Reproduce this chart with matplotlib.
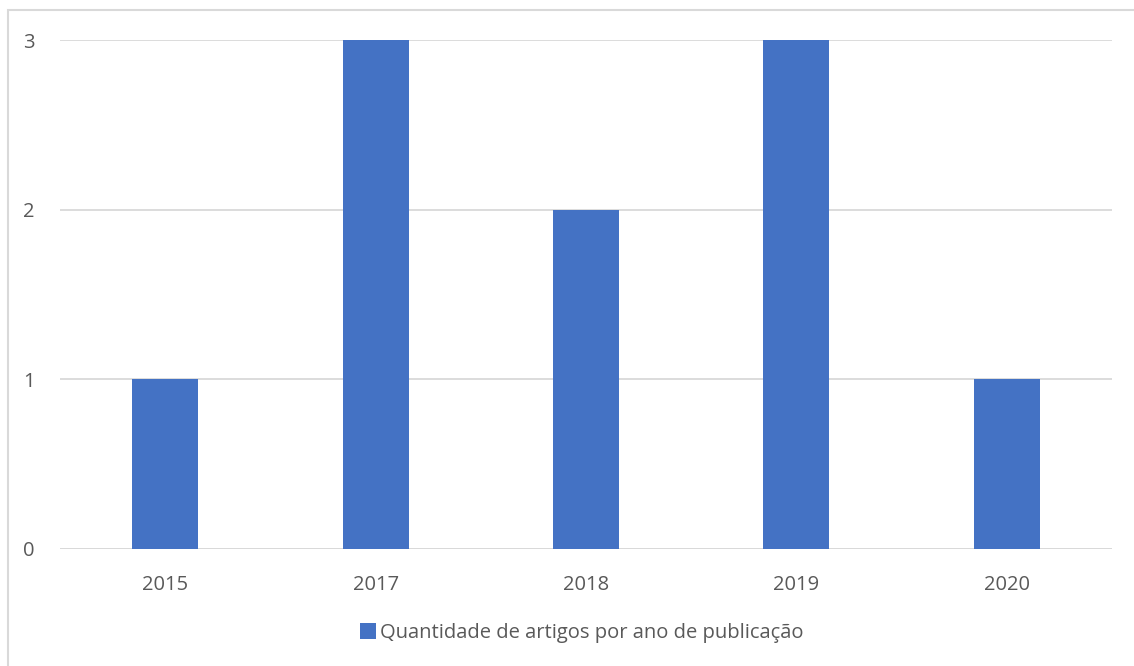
import matplotlib.pyplot as plt
from matplotlib.patches import Rectangle

anos = ['2015', '2017', '2018', '2019', '2020']
quantidade = [1, 3, 2, 3, 1]
serie = 'Quantidade de artigos por ano de publicação'

plt.rcParams['font.family'] = ['Open Sans', 'DejaVu Sans']

fig = plt.figure(figsize=(11.34, 6.66), dpi=100)
ax = fig.add_axes([60 / 1134, 1 - 549 / 666, 1052 / 1134, 509 / 666])

x = range(len(anos))
ax.bar(x, quantidade, width=0.314, color='#4472C4', label=serie, zorder=3)

ax.set_xlim(-0.5, len(anos) - 0.5)
ax.set_ylim(0, 3)
ax.set_yticks([0, 1, 2, 3])
ax.set_xticks(list(x))
ax.set_xticklabels(anos)
ax.grid(axis='y', color='#D9D9D9', linewidth=1.3, zorder=0)
ax.tick_params(length=0, labelsize=14.5, labelcolor='#595959')
ax.tick_params(axis='x', pad=19)
ax.tick_params(axis='y', pad=18)
for s in ax.spines.values():
    s.set_visible(False)
ax.axhline(0, color='#D9D9D9', linewidth=1.3, zorder=2)

leg = ax.legend(loc='center', bbox_to_anchor=(582 / 1134, 1 - 633 / 666),
                bbox_transform=fig.transFigure, frameon=False, fontsize=14.5,
                handlelength=0.8, handleheight=0.8, handletextpad=0.2)
for t in leg.get_texts():
    t.set_color('#595959')

fig.patches.append(Rectangle((8 / 1134, -0.1), 1.2, 1 - 10 / 666 + 0.1,
                             transform=fig.transFigure, fill=False,
                             edgecolor='#D9D9D9', linewidth=1.5))

fig.savefig('out.png', dpi=100)
